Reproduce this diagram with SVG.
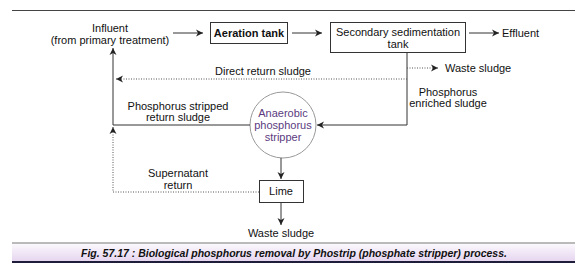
<svg xmlns="http://www.w3.org/2000/svg" width="583" height="271" viewBox="0 0 583 271">
<style>
text{font-family:"Liberation Sans",Arial,sans-serif;font-size:11px;fill:#111}
.c{text-anchor:middle}
.b{fill:#fff;stroke:#333;stroke-width:1}
.s{fill:none;stroke:#333;stroke-width:1}
.d{fill:none;stroke:#555;stroke-width:1;stroke-dasharray:1 1.5}
.p{fill:#5b3b80}
.cap{font-weight:bold;font-style:italic;font-size:10.5px}
</style>
<defs>
<marker id="ah" viewBox="0 0 8 8" refX="7" refY="4" markerWidth="8" markerHeight="8" markerUnits="userSpaceOnUse" orient="auto">
<path d="M0,0.5 L7,4 L0,7.5 L2,4 z" fill="#222"/>
</marker>
<linearGradient id="g" x1="0" y1="0" x2="0" y2="1">
<stop offset="0" stop-color="#fbf8fd"/>
<stop offset="1" stop-color="#e6d6f0"/>
</linearGradient>
</defs>
<line x1="12" y1="10.5" x2="575" y2="10.5" stroke="#444" stroke-width="1"/>
<g id="influent">
<text class="c" x="110" y="32">Influent</text>
<text class="c" x="110" y="44">(from primary treatment)</text>
</g>
<g id="aeration">
<rect class="b" x="210.5" y="22.5" width="77" height="21"/>
<text class="c" x="249" y="37" font-weight="bold">Aeration tank</text>
</g>
<g id="secondary">
<rect class="b" x="330.5" y="22.5" width="135" height="30"/>
<text class="c" x="398" y="36">Secondary sedimentation</text>
<text class="c" x="398" y="48">tank</text>
</g>
<g id="effluent"><text x="502" y="37">Effluent</text></g>
<g id="waste1"><text x="445" y="72">Waste sludge</text></g>
<g id="stripper">
<circle cx="283" cy="125" r="33" fill="#fff" stroke="#999" stroke-width="1"/>
<text class="c p" x="283" y="117">Anaerobic</text>
<text class="c p" x="283" y="129">phosphorus</text>
<text class="c p" x="283" y="141">stripper</text>
</g>
<g id="lime">
<rect class="b" x="259.5" y="180.5" width="44" height="22"/>
<text class="c" x="281" y="195">Lime</text>
</g>
<g id="waste2"><text class="c" x="281" y="237">Waste sludge</text></g>
<g id="labels">
<text x="215" y="75">Direct return sludge</text>
<text class="c" x="178" y="110">Phosphorus stripped</text>
<text class="c" x="178" y="121">return sludge</text>
<text class="c" x="448" y="96">Phosphorus</text>
<text class="c" x="448" y="107">enriched sludge</text>
<text class="c" x="178" y="177">Supernatant</text>
<text class="c" x="178" y="189">return</text>
</g>
<g id="connectors">
<line class="s" x1="173" y1="33" x2="203" y2="33" marker-end="url(#ah)"/>
<line class="s" x1="292" y1="33" x2="322" y2="33" marker-end="url(#ah)"/>
<line class="s" x1="469" y1="33" x2="499" y2="33" marker-end="url(#ah)"/>
<polyline class="s" points="407,52 407,125 317,125" marker-end="url(#ah)"/>
<line class="d" x1="407" y1="68" x2="438" y2="68" marker-end="url(#ah)"/>
<line class="d" x1="407" y1="79" x2="116" y2="79" marker-end="url(#ah)"/>
<polyline class="s" points="250,125 113,125 113,48" marker-end="url(#ah)"/>
<polyline class="d" points="259,192 113,192 113,127" marker-end="url(#ah)"/>
<line class="s" x1="281" y1="158" x2="281" y2="179" marker-end="url(#ah)"/>
<line class="s" x1="281" y1="203" x2="281" y2="225" marker-end="url(#ah)"/>
</g>
<g id="caption">
<line x1="12" y1="243" x2="575" y2="243" stroke="#777" stroke-width="1"/>
<rect x="12" y="244" width="563" height="17" fill="url(#g)"/>
<line x1="12" y1="262" x2="575" y2="262" stroke="#1e1e3a" stroke-width="2"/>
<text class="cap" x="81" y="257">Fig. 57.17 : Biological phosphorus removal by Phostrip (phosphate stripper) process.</text>
</g>
</svg>
